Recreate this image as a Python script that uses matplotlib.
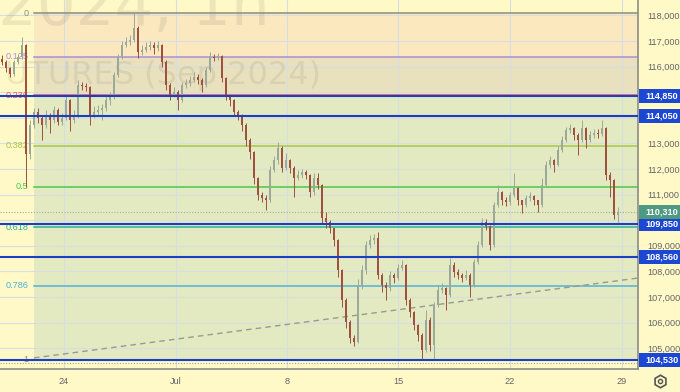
import matplotlib
matplotlib.use("Agg")
import matplotlib.pyplot as plt
import matplotlib.transforms as mtransforms
from matplotlib.patches import Rectangle
from matplotlib.lines import Line2D

# ---------------- data ----------------
first_open = 116300
closes = [116180, 115940, 115710, 116180, 116370, 116840, 112600, 113720, 114220, 113990,
          113720, 114110, 113910, 114300, 113830, 113990, 114690, 113910, 114110, 115280,
          115240, 115200, 114110, 114220, 114300, 114380, 114690, 114810, 115670, 116370,
          116840, 116960, 117040, 117510, 116570, 116650, 116760, 116840, 116730, 116840,
          116180, 115280, 114890, 115010, 114690, 115280, 115360, 115480, 115590, 115480,
          115280, 115870, 116370, 116330, 116410, 115550, 114890, 114690, 114220, 114110,
          113720, 113130, 112660, 111650, 110980, 110870, 110790, 111960, 112350, 112820,
          112040, 112350, 112040, 111650, 111760, 111880, 111760, 111100, 111650, 111370,
          110090, 109930, 109690, 109230, 108050, 106880, 106020, 105400, 105240, 107470,
          108050, 109030, 109230, 109300, 107860, 107470, 107350, 107860, 107740, 108130,
          108250, 106880, 106410, 105910, 105520, 104930, 106100, 105120, 106690, 107270,
          107350, 107080, 108250, 107980, 107860, 107740, 107860, 107470, 108370, 109030,
          109930, 109770, 109030, 110590, 111100, 110790, 110710, 110980, 111260, 110790,
          110590, 110870, 110940, 110790, 110590, 111370, 112160, 112350, 112160, 112740,
          113130, 113520, 113600, 113330, 113130, 113600, 113130, 113330, 113400, 113370,
          113600, 111760, 111570, 110200, 110310]
highs = [116450, 116250, 116000, 116250, 116500, 117150, 116900, 113900, 114400, 114400,
         114100, 114300, 114200, 114450, 114400, 114200, 114900, 114750, 114300, 115480,
         115400, 115350, 115250, 114450, 114500, 114550, 114850, 114990, 115800, 116500,
         117000, 117150, 117250, 118080, 117600, 116850, 116950, 117000, 116950, 117000,
         116900, 116250, 115350, 115200, 115100, 115400, 115500, 115650, 115800, 115700,
         115550, 116000, 116550, 116500, 116520, 116450, 115600, 114900, 114750, 114300,
         114150, 113800, 113200, 112700, 111700, 111100, 111000, 112100, 112500, 113050,
         112900, 112630, 112400, 112100, 111950, 112000, 111950, 111800, 111850, 111850,
         111400, 110300, 110000, 109700, 109250, 108100, 106950, 106100, 105500, 107700,
         108250, 109200, 109410, 109450, 109530, 107950, 107600, 108000, 107950, 108300,
         108450, 108300, 106950, 106450, 105950, 105600, 106490, 106200, 106800, 107450,
         107550, 107400, 108520, 108350, 108100, 107950, 108050, 107950, 108500, 109200,
         110080, 110050, 109800, 110700, 111370, 111150, 110900, 111100, 111840, 111300,
         110800, 111000, 111100, 111000, 110800, 111650, 112300, 112500, 112400, 112900,
         113300, 113650, 113760, 113650, 113400, 113910, 113650, 113500, 113550, 113550,
         113910, 113650, 111900, 111600, 110500]
lows = [116050, 115800, 115600, 115650, 116100, 116300, 111300, 112400, 113600, 113800,
        113130, 113600, 113400, 113800, 113700, 113700, 113900, 113500, 113800, 114000,
        115100, 115050, 113720, 114000, 114050, 113900, 114250, 114500, 114750, 115600,
        116300, 116750, 116850, 116950, 116350, 116450, 116550, 116650, 116500, 116600,
        116000, 115100, 114700, 114800, 114300, 114600, 115150, 115250, 115400, 115300,
        115000, 115200, 115800, 116200, 116250, 115400, 114700, 114450, 114050, 113900,
        113500, 112900, 112400, 111400, 110800, 110700, 110400, 110700, 111900, 112200,
        111900, 111950, 111850, 110900, 111550, 111650, 111600, 110900, 111000, 111200,
        109900, 109700, 109500, 109000, 107800, 106600, 105800, 105200, 105080, 105200,
        107300, 107900, 108900, 109050, 107700, 107200, 106880, 107250, 107550, 107650,
        108050, 106700, 106200, 105700, 105300, 104540, 104850, 104900, 104530, 106600,
        107150, 106490, 107000, 107800, 107700, 107600, 107650, 106990, 107400, 108300,
        108950, 109600, 108830, 108950, 110500, 110600, 110550, 110600, 110900, 110600,
        110280, 110500, 110750, 110600, 110320, 110500, 111300, 112050, 111880, 112100,
        112650, 113050, 113400, 113150, 112550, 113050, 112820, 113050, 113200, 113200,
        113300, 111550, 110900, 110050, 109890]

fib_high = 118080
fib_low = 104550
fib_ratios = [0, 0.125, 0.236, 0.382, 0.5, 0.618, 0.786, 1]
fib_labels = ["0", "0.125", "0.236", "0.382", "0.5", "0.618", "0.786", "1"]

user_levels = [114850, 114050, 109850, 108560, 104530]
last_price = 110310
trend_x = [8, 159]
trend_y = [104620, 107740]

price_ticks = [105000, 106000, 107000, 108000, 109000, 110000, 111000, 112000,
               113000, 114000, 115000, 116000, 117000, 118000]
hidden_ticks = [110000, 114000]
date_ticks = [15.5, 43.4, 71.25, 99.1, 127.0, 154.9]
date_labels = ["24", "Jul", "8", "15", "22", "29"]

# ---------------- style ----------------
BG = "#FFF9C8"
fib_colors = ["#8E8C7C", "#A98ED8", "#F0564E", "#A8C84A", "#4CC84C", "#2AB39A", "#4FB3D8", "#8E8C7C"]
band_colors = ["#FBE8BF", "#E9E0BE", "#E3E9C0", "#E3E9C0", "#E3E9C0", "#E3E9C0", "#E3E9C0"]
UP = "#9CA898"
DOWN = "#A0503F"
BLUE = "#1B3FC4"
FONT = "Liberation Sans"

W, H = 680, 392
fig = plt.figure(figsize=(W / 100, H / 100), dpi=100, facecolor=BG)
ax_w, ax_h = 638, 369
ax = fig.add_axes([0, (H - ax_h) / H, ax_w / W, ax_h / H])
ax.set_facecolor(BG)
x_min, x_max = -0.5, 159
ax.set_xlim(x_min, x_max)
ax.set_ylim(104187, 118600)

# grid
for p in price_ticks:
    ax.axhline(p, color="#D6DEE2", lw=0.8, zorder=0.6)
for d in date_ticks:
    ax.axvline(d, color="#D6DEE2", lw=0.8, zorder=0.6)

# fib bands & lines
fib_start = 8
fib_prices = [fib_high - r * (fib_high - fib_low) for r in fib_ratios]
for i in range(len(fib_prices) - 1):
    ax.fill_between([fib_start, x_max], fib_prices[i + 1], fib_prices[i],
                    color=band_colors[i], lw=0, zorder=0.2)
for p, lab, c in zip(fib_prices, fib_labels, fib_colors):
    ax.plot([fib_start, x_max], [p, p], color=c, lw=1.1, zorder=1.2)
    ax.text(6.6, p, lab, ha="right", va="center", color=c, fontsize=6.6,
            family=FONT, zorder=1.3)

# watermark
ax.text(-2 / ax_w, 1 - 25 / ax_h, "2024, 1h", transform=ax.transAxes, fontsize=44,
        color="#8A8470", alpha=0.16, va="baseline", ha="left", zorder=0.8)
ax.text(5 / ax_w, 1 - 84 / ax_h, "UTURES (Sep 2024)", transform=ax.transAxes, fontsize=23,
        color="#8A8470", alpha=0.16, va="baseline", ha="left", zorder=0.8)

# trend line (dashed)
ax.plot(trend_x, trend_y, color="#9A9A90", lw=1.0, ls=(0, (4, 3)), zorder=1.4)

# last price dotted line
ax.axhline(last_price, color="#A8A8A0", lw=0.8, ls=(0, (1, 1.5)), zorder=1.4)
ax.axhline(104420, color="#A8A8A0", lw=0.8, ls=(0, (1, 1.5)), zorder=1.4)

# candles
opens = [first_open] + closes[:-1]
xs = list(range(len(closes)))
for x, o, h, l, c in zip(xs, opens, highs, lows, closes):
    col = UP if c >= o else DOWN
    ax.vlines(x, l, h, color=col, lw=0.7, zorder=2)
    lo_b, hi_b = min(o, c), max(o, c)
    ax.bar(x, max(hi_b - lo_b, 25), bottom=lo_b, width=0.55, color=col, lw=0, zorder=2.1)

# user horizontal levels
for p in user_levels:
    ax.axhline(p, color=BLUE, lw=1.5, zorder=3)

# axes styling
for s in ["top", "left"]:
    ax.spines[s].set_visible(False)
ax.spines["right"].set_color("#8C8C84")
ax.spines["bottom"].set_color("#8C8C84")
ax.spines["right"].set_linewidth(1.2)
ax.spines["bottom"].set_linewidth(1.2)
ax.yaxis.tick_right()
ax.set_yticks(price_ticks)
ax.set_yticklabels(["" if p in hidden_ticks else f"{p:,}" for p in price_ticks])
ax.set_xticks(date_ticks)
ax.set_xticklabels(date_labels)
ax.tick_params(axis="both", length=0, colors="#666666", labelsize=6.6)
ax.tick_params(axis="y", pad=7)
ax.tick_params(axis="x", pad=6)
for t in ax.get_xticklabels() + ax.get_yticklabels():
    t.set_family(FONT)

# price labels on the right axis
bt = mtransforms.blended_transform_factory(fig.transFigure, ax.transData)
box_h = 14 * (118600 - 104187) / ax_h
for p in user_levels + [last_price]:
    col = "#4E9A80" if p == last_price else "#1C47D2"
    r = Rectangle((639 / W, p - box_h / 2), 41 / W, box_h, transform=bt,
                  facecolor=col, edgecolor="none", zorder=10, clip_on=False)
    fig.add_artist(r)
    fig.text(645 / W, p, f"{p:,}", transform=bt, color="white", fontsize=6.6,
             family=FONT, va="center", ha="left", zorder=11, fontweight="bold")

# settings icon
fig.add_artist(Line2D([660 / W], [1 - 381 / H], marker="h", markersize=9, mfc="none",
                      mec="#555555", mew=1.2, transform=fig.transFigure))
fig.add_artist(Line2D([660 / W], [1 - 381 / H], marker="o", markersize=3, mfc="none",
                      mec="#555555", mew=1.0, transform=fig.transFigure))

fig.savefig("out.png", dpi=100, facecolor=BG)
